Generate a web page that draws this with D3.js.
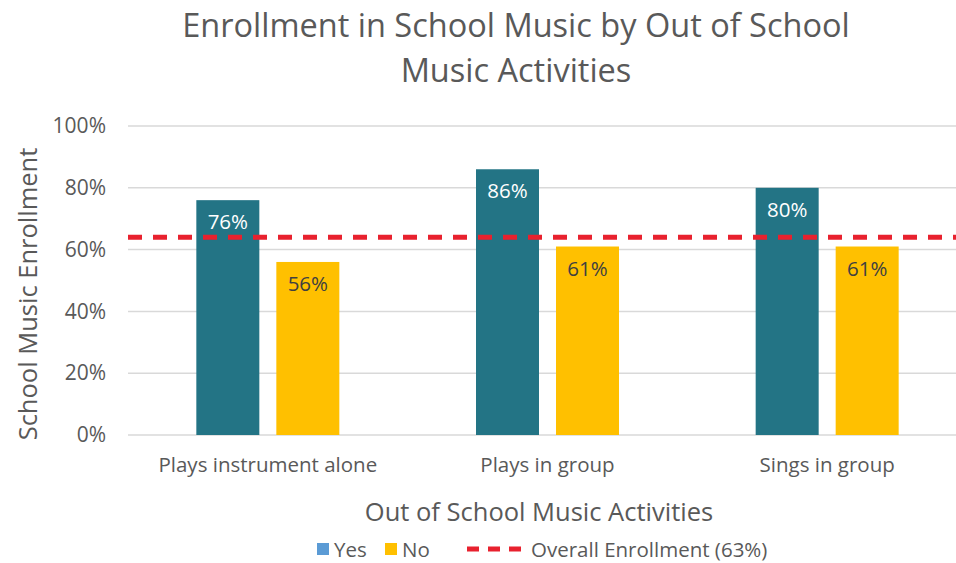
<!DOCTYPE html>
<html>
<head>
<meta charset="utf-8">
<script src="https://cdn.jsdelivr.net/npm/d3@7"></script>
<style>
  body { margin: 0; background: #fff; }
  text { font-family: "Open Sans", "Noto Sans", sans-serif; }
</style>
</head>
<body>
<svg id="chart" width="956" height="563"></svg>
<script>
const categories = ['Plays instrument alone', 'Plays in group', 'Sings in group']
const yesValues = [0.76, 0.86, 0.80]
const noValues = [0.56, 0.61, 0.61]
const overallValue = 0.64
const overallLabel = 'Overall Enrollment (63%)'
const yTicks = [0, 0.2, 0.4, 0.6, 0.8, 1.0]

const svg = d3.select('#chart')
const width = 956,
      margin = {top: 126, left: 128, right: -11, bottom: 128},
      plotW = width - margin.left - margin.right,
      plotH = 563 - margin.top - margin.bottom

const colors = {yes: '#237485', no: '#FFC000', line: '#E8212E', text: '#595959'}

const g = svg.append('g')
  .attr('transform', `translate(${margin.left}, ${margin.top})`)

const x0 = d3.scaleBand().domain(categories).range([0, plotW])
const x1 = d3.scaleBand().domain(['yes', 'no'])
  .range([x0.bandwidth() / 2 - 71.5, x0.bandwidth() / 2 + 71.5])
  .paddingInner(0.2125)
const y = d3.scaleLinear().domain([0, 1]).range([plotH, 0])

// gridlines
g.append('g')
  .selectAll('line')
  .data(yTicks)
  .join('line')
  .attr('x1', 0).attr('x2', plotW)
  .attr('y1', d => y(d)).attr('y2', d => y(d))
  .attr('stroke', '#d9d9d9')
  .attr('stroke-width', 1.5)

// y axis labels
const yAxis = g.append('g')
  .call(d3.axisLeft(y).tickValues(yTicks).tickFormat(d3.format('.0%')).tickSize(0).tickPadding(22))
yAxis.select('.domain').remove()
yAxis.selectAll('text').attr('font-size', 21).attr('fill', colors.text).attr('font-family', '"Open Sans", sans-serif')

// bars
const rows = categories.map((c, i) => ({cat: c, yes: yesValues[i], no: noValues[i]}))
const groups = g.selectAll('.grp')
  .data(rows)
  .join('g')
  .attr('transform', d => `translate(${x0(d.cat)}, 0)`)

const bars = groups.selectAll('g')
  .data(d => ['yes', 'no'].map(k => ({key: k, v: d[k]})))
  .join('g')

bars.append('rect')
  .attr('x', d => x1(d.key))
  .attr('width', x1.bandwidth())
  .attr('y', d => y(d.v))
  .attr('height', d => plotH - y(d.v))
  .attr('fill', d => colors[d.key])

bars.append('text')
  .attr('x', d => x1(d.key) + x1.bandwidth() / 2)
  .attr('y', d => y(d.v) + 29)
  .attr('text-anchor', 'middle')
  .attr('font-size', 20.5)
  .attr('fill', d => d.key === 'yes' ? '#fff' : '#404040')
  .text(d => d3.format('.0%')(d.v))

// x axis labels
const xAxis = g.append('g')
  .attr('transform', `translate(0, ${plotH})`)
  .call(d3.axisBottom(x0).tickSize(0).tickPadding(22))
xAxis.select('.domain').remove()
xAxis.selectAll('text').attr('font-size', 20.5).attr('fill', colors.text).attr('font-family', '"Open Sans", sans-serif')

// overall line
g.append('line')
  .attr('x1', 0).attr('x2', plotW)
  .attr('y1', y(overallValue)).attr('y2', y(overallValue))
  .attr('stroke', colors.line)
  .attr('stroke-width', 5)
  .attr('stroke-dasharray', '14 11')

// titles
svg.append('text')
  .attr('x', 516).attr('y', 37)
  .attr('text-anchor', 'middle')
  .attr('font-size', 32.5).attr('fill', colors.text)
  .text('Enrollment in School Music by Out of School')
svg.append('text')
  .attr('x', 516).attr('y', 82)
  .attr('text-anchor', 'middle')
  .attr('font-size', 32.5).attr('fill', colors.text)
  .text('Music Activities')

svg.append('text')
  .attr('x', 539).attr('y', 521)
  .attr('text-anchor', 'middle')
  .attr('font-size', 25.5).attr('fill', colors.text)
  .text('Out of School Music Activities')

svg.append('text')
  .attr('transform', 'translate(37, 294) rotate(-90)')
  .attr('text-anchor', 'middle')
  .attr('font-size', 25.5).attr('fill', colors.text)
  .text('School Music Enrollment')

// legend
const legend = svg.append('g').attr('transform', 'translate(0, 549)')
legend.append('rect').attr('x', 317).attr('y', -6).attr('width', 12).attr('height', 12).attr('fill', '#5B9BD5')
legend.append('text').attr('x', 334).attr('y', 7.5).attr('font-size', 20.5).attr('fill', colors.text).text('Yes')
legend.append('rect').attr('x', 385).attr('y', -6).attr('width', 12).attr('height', 12).attr('fill', colors.no)
legend.append('text').attr('x', 402).attr('y', 7.5).attr('font-size', 20.5).attr('fill', colors.text).text('No')
legend.append('line').attr('x1', 467).attr('x2', 523).attr('y1', 0).attr('y2', 0)
  .attr('stroke', colors.line).attr('stroke-width', 5).attr('stroke-dasharray', '12 9')
legend.append('text').attr('x', 531).attr('y', 7.5).attr('font-size', 20.5).attr('fill', colors.text).text(overallLabel)
</script>
</body>
</html>
